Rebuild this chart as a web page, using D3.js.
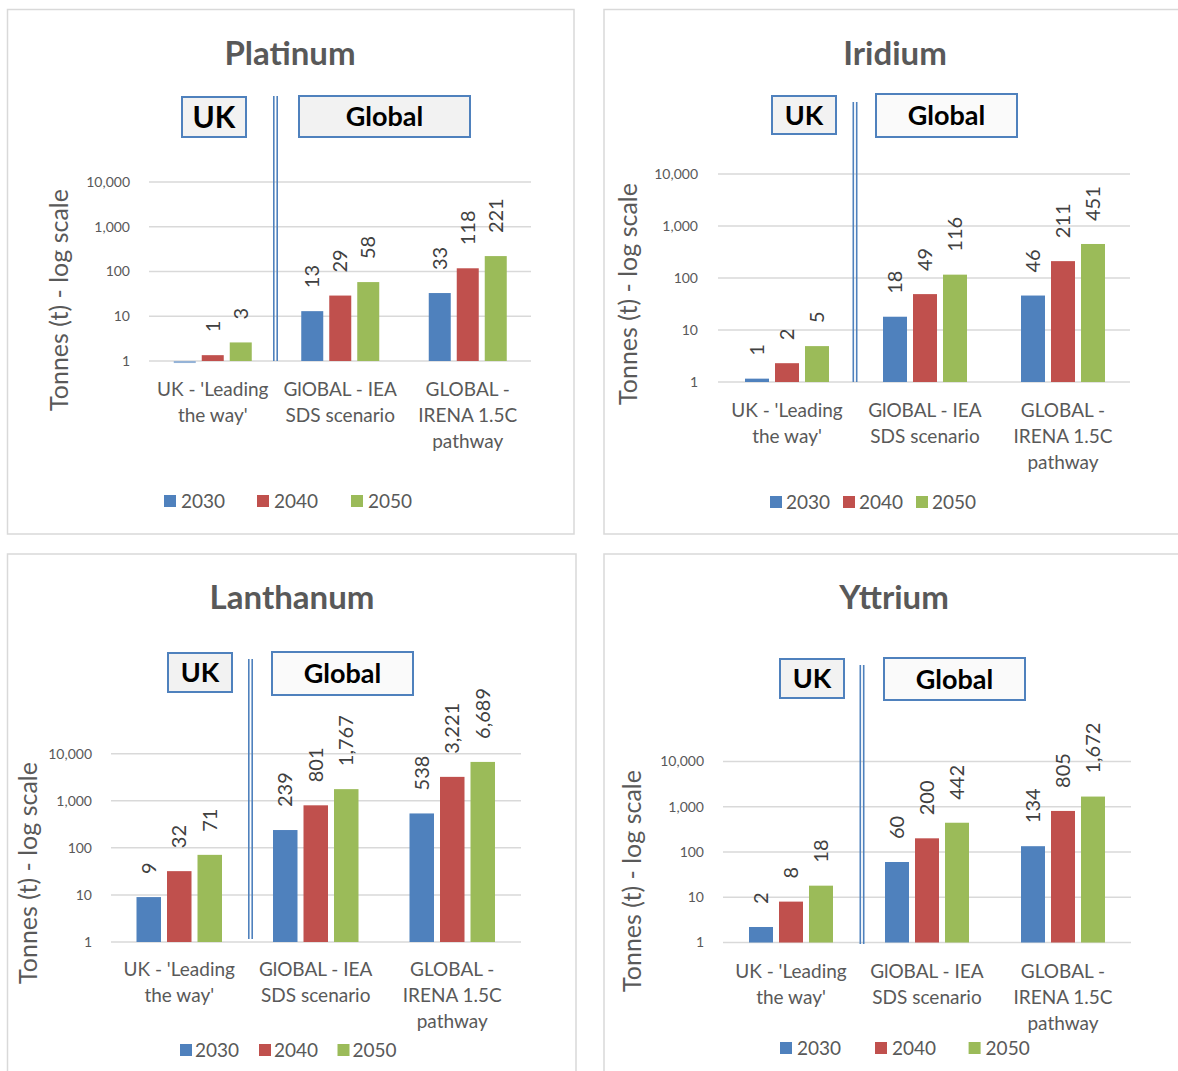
<!DOCTYPE html>
<html>
<head>
<meta charset="utf-8">
<script src="https://cdn.jsdelivr.net/npm/d3@7"></script>
<style>
  body { margin: 0; background: #fff; }
  svg { display: block; font-family: Lato, Carlito, Calibri, sans-serif; }
</style>
</head>
<body>
<script>
// data: rows = scenario, columns = year
const categoryLines = [
  ["UK - 'Leading", "the way'"],
  ["GlOBAL - IEA", "SDS scenario"],
  ["GLOBAL -", "IRENA 1.5C", "pathway"]
];
const years = ["2030", "2040", "2050"];
const yTicks = [1, 10, 100, 1000, 10000];

const platinum = [[0.9, 1.35, 2.6], [13, 29, 58], [33, 118, 221]];
const iridium = [[1.16, 2.3, 4.9], [18, 49, 116], [46, 211, 451]];
const lanthanum = [[9, 32, 71], [239, 801, 1767], [538, 3221, 6689]];
const yttrium = [[2.2, 8, 18], [60, 200, 442], [134, 805, 1672]];

const colors = ["#4F81BD", "#C0504D", "#9BBB59"];
const fmt = d3.format(",.0f");

// layout of each panel (pixel positions)
const panels = [
  { title: "Platinum", data: platinum, border: [7.5, 9.5, 574, 534],
    left: 149, step: 127.5, gridEnd: 531, yRange: [361, 182], barW: 22, gap: 6,
    titleX: 290, titleY: 53, yTitleX: 59, yTitleY: 300, tickRight: 130,
    catY: 389, legendY: 501, legendX: [164, 257, 351], legendSp: 17,
    ukBox: [182, 97, 246, 137], ukSize: 30, globalBox: [299, 96, 470, 137], lineY: [96, 361], divShift: -1 },
  { title: "Iridium", data: iridium, border: [604, 9.5, 1182, 534],
    left: 718, step: 138, gridEnd: 1130, yRange: [382, 174], barW: 24, gap: 6,
    titleX: 895, titleY: 53, yTitleX: 628, yTitleY: 294, tickRight: 698,
    catY: 410, legendY: 502, legendX: [770, 843, 916], legendSp: 16,
    ukBox: [772, 96, 836, 134], ukSize: 27, globalBox: [876, 94, 1017, 137], lineY: [102, 382], divShift: -1 },
  { title: "Lanthanum", data: lanthanum, border: [7.5, 554, 576, 1080],
    left: 111, step: 136.5, gridEnd: 521, yRange: [942, 753.7], barW: 24.5, gap: 6,
    titleX: 292, titleY: 597, yTitleX: 28, yTitleY: 873, tickRight: 92,
    catY: 969, legendY: 1050, legendX: [180, 259, 337.5], legendSp: 15,
    ukBox: [168, 653, 232, 692], ukSize: 27, globalBox: [272, 652, 413, 695], lineY: [659, 939], divShift: 3 },
  { title: "Yttrium", data: yttrium, border: [604, 554, 1182, 1080],
    left: 723, step: 136, gridEnd: 1131, yRange: [942.5, 761.4], barW: 24, gap: 6,
    titleX: 894, titleY: 597, yTitleX: 632, yTitleY: 881, tickRight: 704,
    catY: 971, legendY: 1048, legendX: [780, 875, 968.6], legendSp: 17,
    ukBox: [780, 659, 844, 698], ukSize: 27, globalBox: [884, 658, 1025, 700], lineY: [665, 944], divShift: 3 }
];

const svg = d3.select("body").append("svg")
  .attr("width", 1178)
  .attr("height", 1071);

const drawPanel = (p) => {
  const g = svg.append("g");

  // panel frame
  g.append("rect")
    .attr("x", p.border[0]).attr("y", p.border[1])
    .attr("width", p.border[2] - p.border[0]).attr("height", p.border[3] - p.border[1])
    .attr("fill", "none").attr("stroke", "#D9D9D9").attr("stroke-width", 1.5);

  g.append("text")
    .attr("x", p.titleX).attr("y", p.titleY).attr("dy", "0.35em")
    .attr("text-anchor", "middle")
    .attr("font-size", 33).attr("font-weight", "bold").attr("fill", "#595959")
    .text(p.title);

  const x = d3.scaleBand()
    .domain(d3.range(categoryLines.length))
    .range([p.left, p.left + p.step * categoryLines.length]);
  const groupW = p.barW * 3 + p.gap * 2;
  const xYear = d3.scaleBand()
    .domain(years)
    .range([(p.step - groupW) / 2, (p.step + groupW) / 2])
    .paddingInner(p.gap / (p.barW + p.gap));
  const y = d3.scaleLog().domain([1, 10000]).range(p.yRange);

  // gridlines + tick labels
  g.selectAll(null).data(yTicks).join("line")
    .attr("x1", p.left).attr("x2", p.gridEnd)
    .attr("y1", (d) => y(d)).attr("y2", (d) => y(d))
    .attr("stroke", "#D9D9D9").attr("stroke-width", 1.5);
  g.selectAll(null).data(yTicks).join("text")
    .attr("x", p.tickRight).attr("y", (d) => y(d)).attr("dy", "0.35em")
    .attr("text-anchor", "end").attr("font-size", 14).attr("fill", "#595959")
    .text((d) => fmt(d));

  g.append("text")
    .attr("transform", `translate(${p.yTitleX},${p.yTitleY}) rotate(-90)`)
    .attr("dy", "0.35em").attr("text-anchor", "middle")
    .attr("font-size", 25).attr("fill", "#595959")
    .text("Tonnes (t) - log scale");

  // bars
  const cells = p.data.flatMap((row, i) => row.map((v, j) => ({ i, year: years[j], j, v })));
  g.selectAll(null).data(cells).join("rect")
    .attr("x", (d) => x(d.i) + xYear(d.year))
    .attr("width", xYear.bandwidth())
    .attr("y", (d) => Math.min(y(d.v), y(1)))
    .attr("height", (d) => Math.abs(y(1) - y(d.v)))
    .attr("fill", (d) => (d.v < 1 ? "#95B3D7" : colors[d.j]));

  // rotated value labels (none for values under 1)
  g.selectAll(null).data(cells.filter((d) => d.v >= 1)).join("text")
    .attr("transform", (d) => `translate(${x(d.i) + xYear(d.year) + xYear.bandwidth() / 2},${y(d.v) - 23}) rotate(-90)`)
    .attr("dy", "0.35em").attr("font-size", 20).attr("fill", "#404040")
    .text((d) => fmt(d.v));

  // category labels
  categoryLines.forEach((lines, i) => {
    g.append("text")
      .attr("x", x(i) + p.step / 2).attr("y", p.catY)
      .attr("text-anchor", "middle").attr("font-size", 19).attr("fill", "#595959")
      .selectAll("tspan").data(lines).join("tspan")
      .attr("x", x(i) + p.step / 2)
      .attr("dy", (d, k) => (k === 0 ? "0.35em" : "26"))
      .text((d) => d);
  });

  // UK / Global divider (double line)
  const divX = x(1) + p.divShift;
  [-1.7, 1.7].forEach((o) => {
    g.append("line")
      .attr("x1", divX + o).attr("x2", divX + o)
      .attr("y1", p.lineY[0]).attr("y2", p.lineY[1])
      .attr("stroke", "#4F81BD").attr("stroke-width", 1.6);
  });

  const box = (b, label, size, fill) => {
    g.append("rect")
      .attr("x", b[0]).attr("y", b[1]).attr("width", b[2] - b[0]).attr("height", b[3] - b[1])
      .attr("fill", fill).attr("stroke", "#4F81BD").attr("stroke-width", 2);
    g.append("text")
      .attr("x", (b[0] + b[2]) / 2).attr("y", (b[1] + b[3]) / 2).attr("dy", "0.36em")
      .attr("text-anchor", "middle").attr("font-size", size).attr("font-weight", "bold")
      .attr("fill", "#000")
      .text(label);
  };
  box(p.ukBox, "UK", p.ukSize, "#F2F2F2");
  box(p.globalBox, "Global", 27, p.title === "Platinum" ? "#F2F2F2" : "#FAFAFA");

  // legend
  years.forEach((yr, j) => {
    g.append("rect")
      .attr("x", p.legendX[j]).attr("y", p.legendY - 6)
      .attr("width", 12).attr("height", 12).attr("fill", colors[j]);
    g.append("text")
      .attr("x", p.legendX[j] + p.legendSp).attr("y", p.legendY).attr("dy", "0.35em")
      .attr("font-size", 19).attr("fill", "#595959")
      .text(yr);
  });
};

panels.forEach(drawPanel);
</script>
</body>
</html>
